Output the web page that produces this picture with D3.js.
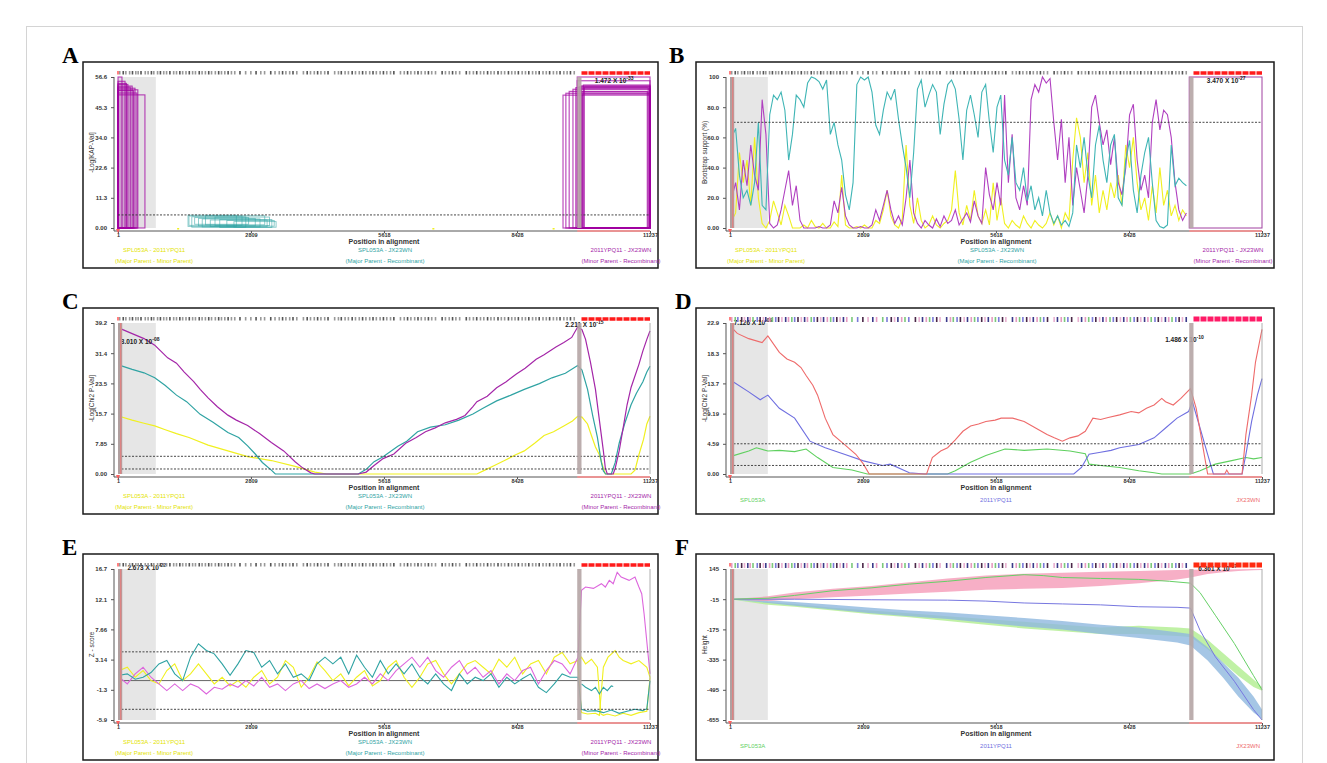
<!DOCTYPE html>
<html><head><meta charset="utf-8">
<script src="https://cdn.jsdelivr.net/npm/d3@7"></script>
<style>body{margin:0;background:#fff;} text{font-family:"Liberation Sans",Arial,sans-serif;}</style>
</head><body><script>
// ---------------- DATA ----------------
const xTickVals = [1, 2809, 5618, 8428, 11237];
const xTickLabels = ["1", "2809", "5618", "8428", "11237"];
const breakStart = 9700, breakEnd = 9790, seqEnd = 11237, greyEnd = 800;

const sitePos = [20,95,150,230,290,360,410,470,560,620,690,740,820,880,950,1010,1080,1160,1220,1290,1350,1420,1490,1560,1620,1700,1760,1830,1900,1960,2040,2110,2170,2240,2310,2380,2450,2560,2680,2790,2900,3000,3080,3210,3300,3390,3460,3530,3610,3680,3760,3900,3980,4050,4130,4200,4270,4350,4420,4560,4640,4700,4780,4850,4930,5000,5080,5150,5220,5300,5370,5440,5520,5590,5660,5740,5810,5950,6030,6100,6170,6250,6320,6390,6470,6540,6610,6690,6830,6900,6980,7050,7120,7200,7340,7410,7490,7560,7640,7710,7790,7860,7930,8010,8080,8150,8230,8300,8370,8440,8520,8590,8660,8740,8810,8880,8960,9030,9100,9180,9250,9320,9400,9470,9540,9620];

// A: RDP boxes (-Log KAP-Val)
const aLeftEnds = [85, 150, 180, 210, 260, 300, 330, 360, 400, 420, 570];
const aLeftTops = [56.6, 55.0, 54.2, 53.8, 52.8, 53.2, 51.5, 52.4, 50.6, 51.8, 49.9];
const aRightStarts = [9700, 9700, 9400, 9460, 9530, 9610, 9670, 9740, 9790, 9830, 9760, 9800, 9810, 9850];
const aRightEnds = [11237, 11237, 11237, 11237, 11180, 11237, 11200, 11237, 11237, 11237, 11237, 11220, 11237, 11237];
const aRightTops = [56.6, 55.2, 49.8, 50.5, 51.2, 52.0, 52.6, 53.0, 53.3, 53.6, 52.2, 51.0, 50.2, 52.8];
const aTealStarts = [1480, 1500, 1560, 1620, 1700, 1780, 1850, 1950, 2050, 2150, 2300, 2450];
const aTealEnds = [2500, 2620, 2700, 2760, 2900, 3000, 3100, 3150, 3200, 3250, 3300, 3340];
const aTealTops = [4.8, 4.5, 4.2, 3.9, 3.6, 3.4, 4.6, 3.0, 4.1, 3.2, 2.8, 2.4];
const aTealBottoms = [0.6, 1.0, 0.3, 1.4, 0.8, 0.4, 1.2, 0.5, 0.9, 0.2, 0.7, 0.3];
const aYellowDots = [1250, 6640, 9180];

// B: Bootscan, windows start 40, step 80
const bootStart = 40, bootStep = 80;
const bTeal = [60,66,35,20,25,15,30,70,15,12,75,88,85,90,78,45,62,88,85,80,96,100,99,97,92,98,62,70,55,45,22,12,30,95,100,98,100,90,68,62,78,90,85,92,72,55,40,20,50,92,98,80,88,95,90,62,82,95,98,92,72,45,78,88,75,60,90,95,70,50,80,88,45,35,60,30,25,40,18,28,12,20,8,25,10,3,8,2,5,1,10,55,40,60,35,20,55,68,45,30,55,62,20,15,45,58,25,10,35,50,60,30,5,1,0,2,55,28,33,30,28];
const bPurple = [20,30,12,45,28,55,35,25,85,62,3,0,2,12,25,38,15,28,5,0,0,0,0,1,0,0,2,18,10,27,8,2,0,0,1,0,0,2,12,5,15,25,12,3,8,2,20,45,10,3,0,5,2,0,6,1,8,3,5,12,2,6,10,4,18,8,3,40,22,12,30,15,88,30,62,20,12,28,15,85,95,90,100,96,99,70,45,72,30,60,15,40,25,10,35,80,88,70,55,65,42,60,30,22,40,75,82,45,25,35,20,70,85,65,78,75,60,30,12,5,10];
const bYellow = [5,10,50,30,45,15,60,20,3,0,5,18,10,2,15,8,0,0,0,2,0,5,1,0,3,0,0,4,1,35,2,0,0,1,0,2,0,0,5,3,12,25,8,2,0,6,55,15,3,20,5,0,2,8,2,0,3,5,12,38,10,2,15,5,25,8,3,12,2,30,5,20,3,0,5,2,0,8,3,0,5,2,0,3,10,2,8,0,10,5,45,73,60,30,50,15,35,10,25,12,30,20,35,15,55,40,60,30,12,20,5,28,10,40,15,25,8,15,5,12,8];

// C: MaxChi
const cPurplePos = [51,300,550,777,900,1050,1236,1400,1600,1737,1904,2100,2322,2500,2739,2990,3240,3500,3741,3900,4075,4158,5076,5243,5410,5600,5827,6078,6300,6495,6700,6913,7150,7330,7497,7581,7800,7998,8200,8415,8600,8833,9000,9250,9417,9584,9709,9800,9876,9980,10085,10168,10252,10294,10335,10460,10502,10586,10670,10753,10837,11003,11087,11170,11237];
const cPurple = [37.8,36.5,35.2,33.5,32.0,30.2,28.8,26.5,24.0,22.0,19.8,17.5,15.3,14.0,12.6,10.5,8.2,6.0,3.2,1.6,0.3,0,0,0.5,2.2,4.0,5.2,8.0,9.5,11.0,12.0,13.3,14.2,15.2,17.5,18.8,20.2,22.4,24.0,26.0,27.5,29.8,31.0,33.0,34.2,35.5,38.2,37.5,35.0,29.0,22.0,14.0,6.0,1.5,0,0,1.5,6.0,12.0,18.0,22.5,28.5,32.0,35.0,37.2];
const cTealPos = [26,300,550,777,1000,1236,1450,1737,2000,2322,2550,2739,2900,3050,3240,3323,5076,5243,5410,5600,5911,6100,6328,6600,6913,7200,7497,7700,7998,8300,8582,8900,9167,9450,9709,9800,9918,10030,10126,10210,10252,10300,10420,10502,10586,10700,10837,10950,11087,11170,11237];
const cTeal = [28.3,27.2,26.3,25.0,23.0,20.5,18.8,15.5,13.5,10.8,9.5,7.3,5.2,3.0,1.0,0,0,1.2,3.2,4.5,7.2,8.5,11.0,12.2,12.8,14.0,15.6,17.0,19.0,20.5,22.0,23.5,25.0,26.2,28.2,27.0,22.0,15.0,9.5,3.0,0.8,0,0,3.0,8.0,13.0,18.0,21.0,24.0,26.5,28.0];
const cYellowPos = [26,300,550,777,1000,1236,1500,1904,2322,2739,3240,3741,4158,4409,7581,7748,7950,8165,8400,8582,8800,9000,9200,9417,9600,9709,9800,9918,10000,10085,10168,10252,10294,10837,10920,11003,11100,11170,11237];
const cYellow = [15.0,14.0,13.2,12.5,11.5,10.5,9.5,7.5,6.0,4.5,3.5,2.0,0.5,0,0,1.0,2.2,3.5,5.0,6.0,8.0,10.0,11.0,12.5,13.8,15.0,14.8,13.0,10.0,7.0,5.0,1.5,0,0,1.0,5.0,9.0,13.0,15.0];

// D: Chi2 per sequence
const dRedPos = [74,154,397,679,801,1043,1204,1366,1500,1608,1750,1851,2012,2174,2416,2658,2820,2941,4153,4274,4450,4597,4759,4920,5082,5250,5405,5600,5728,5970,6213,6455,6697,6850,7020,7182,7350,7505,7666,7828,7989,8231,8474,8635,8797,8958,9120,9200,9362,9524,9726,9847,9968,10089,10450,10493,10540,10816,10897,11018,11099,11237];
const dRed = [22.0,21.4,20.6,20.0,21.0,18.5,17.5,17.0,16.2,15.0,13.5,12.0,8.5,6.0,4.5,3.0,1.5,0,0,2.5,3.5,4.0,5.2,6.5,7.3,7.6,8.0,8.2,8.5,8.5,8.0,7.0,6.0,5.5,5.0,5.5,5.8,6.5,8.5,8.3,8.6,9.0,9.5,9.3,10.0,10.5,11.5,11.0,10.5,11.5,13.0,10.0,5.0,0,0,0.6,0,0,6.0,12.0,17.0,22.0];
const dBluePos = [74,397,639,801,1043,1366,1689,2012,2416,2820,3224,3385,3789,4112,7262,7424,7585,7828,8050,8231,8635,8958,9200,9443,9685,9766,9928,10089,10210,10816,10897,11018,11139,11237];
const dBlue = [14.0,12.5,11.3,12.0,10.0,8.5,5.0,4.0,3.0,2.0,1.3,1.5,0.2,0,0,1.0,3.0,3.3,3.6,4.0,4.5,5.5,7.0,8.5,9.5,11.0,7.0,3.0,0,0,3.0,8.0,12.0,14.5];
const dGreenPos = [74,397,558,801,1043,1366,1608,1851,2174,2578,2901,4597,4759,5082,5405,5808,6213,6697,7182,7505,7585,7828,8231,8635,8958,9120,9726,9928,10251,10574,10897,11058,11237];
const dGreen = [2.8,3.5,4.0,3.5,3.6,3.4,3.8,2.5,1.0,0.6,0,0,0.5,1.8,2.8,3.8,3.6,3.8,3.5,3.1,1.5,1.3,1.0,0.5,0.2,0,0,0.5,1.5,2.0,2.5,2.3,2.5];

// E: Siscan Z-score, windows start 30, step 167 up to breakpoint
const zStart = 30, zStep = 167;
const eTeal = [0.8,1.0,0.2,0.5,1.2,2.5,3.0,1.0,0.0,3.5,5.5,4.5,4.0,2.5,0.8,2.5,4.5,4.2,2.0,3.0,1.0,2.5,0.5,1.0,0.0,2.5,3.5,2.5,3.5,1.0,3.8,2.0,0.5,3.0,1.0,2.5,1.0,2.5,0.5,-0.5,1.0,-0.5,-1.5,1.0,-0.5,0.5,0.0,1.0,-1.0,0.5,-0.5,0.3,1.0,-1.0,-1.8,-0.5,1.0,0.5,0.5];
const eYellow = [1.5,2.0,0.5,1.5,0.0,-0.5,1.5,2.5,0.0,1.0,2.5,1.0,-0.5,0.5,-0.8,0.0,-1.0,0.5,1.5,-0.5,0.5,3.0,2.0,-1.0,0.5,2.8,1.5,0.0,1.0,-0.8,0.5,1.5,-0.8,0.0,2.0,3.0,0.5,-1.0,0.5,2.5,3.0,1.0,-0.5,1.0,2.5,3.0,2.0,1.0,3.2,2.0,3.5,1.0,2.5,3.0,1.0,3.5,4.2,2.5,3.0];
const eMagenta = [0.5,-0.5,1.0,2.0,0.5,-0.5,-1.5,-0.5,-1.5,-0.5,-1.0,-2.0,-1.0,-1.3,-0.5,-1.0,0.0,-0.8,0.5,-1.0,-0.5,-1.5,-0.5,0.0,-1.2,-0.5,-1.2,-0.5,0.0,-1.0,-0.5,0.5,-0.5,1.0,0.0,1.5,2.5,3.5,2.0,3.5,1.5,0.5,2.0,3.0,1.0,2.0,0.5,1.5,-0.5,1.0,0.0,1.5,2.0,-0.5,1.5,3.0,2.5,1.0,3.5];
const eTealPostPos = [9790,9918,10085,10252,10420,10586,10753,10920,11087,11170,11237];
const eTealPost = [-4.3,-4.6,-4.5,-4.8,-4.4,-4.9,-4.6,-4.3,-4.5,-4.2,0.0];
const eTeal2Pos = [9790,9876,10001,10085,10168,10252,10335,10420,10460];
const eTeal2 = [-0.5,-1.0,-1.5,-1.0,-2.0,-1.0,-1.5,-0.8,-0.9];
const eYellowPostPos = [9790,9876,10001,10126,10200,10252,10335,10500,10670,10837,11003,11170,11237];
const eYellowPost = [3.5,2.5,3.2,2.0,-5.0,-5.2,-5.0,-5.3,-4.9,-5.2,-4.8,-4.6,0.5];
const eYellow2Pos = [9709,9790,9918,10085,10168,10252,10350,10500,10586,10670,10837,11003,11170,11237];
const eYellow2 = [3.0,-4.8,-5.0,-4.9,-5.2,2.0,3.5,4.5,3.5,3.0,2.5,3.0,2.0,0.5];
const eMagentaPostPos = [9790,9876,10043,10210,10294,10377,10460,10544,10628,10795,10920,11003,11062,11112,11237];
const eMagentaPost = [13.5,14.0,13.8,14.5,14.0,15.0,14.5,16.2,15.5,15.0,15.5,14.0,13.0,10.0,1.0];

// F: LARD heights
const fPos = [1,801,1366,2174,2981,3789,4597,5405,6213,7020,7828,8635,9443,9726,10089,10412,10735,11058,11237];
const fPinkUpper = [-15,0,20,40,55,75,95,110,120,125,130,135,140,141,142,143,144,145,145];
const fPinkLower = [-15,-25,-15,-5,5,15,25,35,40,45,55,70,90,100,118,128,134,139,140];
const fBlueUpper = [-15,-20,-30,-45,-60,-75,-85,-100,-115,-130,-150,-165,-190,-200,-270,-350,-430,-530,-600];
const fBlueLower = [-15,-35,-50,-70,-90,-105,-120,-140,-160,-175,-200,-220,-245,-260,-340,-430,-530,-615,-650];
const fGreenUpper = [-15,-30,-40,-60,-75,-90,-105,-120,-135,-150,-165,-155,-165,-170,-230,-300,-370,-440,-480];
const fGreenLower = [-15,-45,-55,-75,-95,-110,-130,-150,-170,-185,-200,-200,-210,-215,-280,-350,-420,-480,-500];
const fGreenLinePos = [1,801,1366,2174,2981,3789,4597,5405,6213,6616,7020,7828,8635,9281,9726,9928,10251,10654,11058,11237];
const fGreenLine = [-15,-10,5,30,45,65,80,100,115,110,100,95,90,80,70,20,-100,-250,-420,-495];
const fBlueLinePos = [1,1366,2981,4597,5405,6213,7020,7828,8635,9443,9726,9928,10251,10654,11058,11237];
const fBlueLine = [-15,-15,-18,-20,-25,-35,-40,-45,-55,-58,-62,-180,-320,-450,-600,-655];

// ---------------- DRAWING ----------------
const YEL = "#f0f020", TEAL = "#2fa3a3", PUR = "#a426a8", MAG = "#dd66dd";
const DRED = "#ee6a6a", DBLUE = "#6f6fe0", DGREEN = "#5fd05f";
const svg = d3.select("body").append("svg").attr("width", 1327).attr("height", 763);
svg.append("rect").attr("x", 26.5).attr("y", 26.5).attr("width", 1276).attr("height", 760)
  .attr("fill", "none").attr("stroke", "#d4d4d4");

const cols = [{fx: 83, fw: 575, pl: 118}, {fx: 696, fw: 578, pl: 730}];
const rows = [62, 308, 554];
const PW = 532, FH = 206;

function panel(cfg) {
  const c = cols[cfg.col], fy = rows[cfg.row], pl = c.pl, pr = pl + PW;
  const g = svg.append("g");
  const x = d3.scaleLinear().domain([1, seqEnd]).range([pl, pr]);
  const y = d3.scaleLinear().domain(cfg.yDomain).range([fy + 166, fy + 15]);
  const yTop = fy + 15, yBot = fy + 166;
  g.append("rect").attr("x", c.fx).attr("y", fy).attr("width", c.fw).attr("height", FH)
    .attr("fill", "#fff").attr("stroke", "#1a1a1a").attr("stroke-width", 1.5);
  svg.append("text").attr("x", c.fx - (cfg.letterShift || 21)).attr("y", fy + 1).text(cfg.letter)
    .attr("font-weight", "bold").attr("font-size", 23).attr("fill", "#000")
    .style("font-family", "'Liberation Serif',serif");
  g.append("rect").attr("x", x(1)).attr("y", yTop).attr("width", x(greyEnd) - x(1)).attr("height", yBot - yTop)
    .attr("fill", "#e6e6e6");
  const body = g.append("g");
  (cfg.dashed || []).forEach(v => {
    g.append("line").attr("x1", pl).attr("x2", pr).attr("y1", y(v)).attr("y2", y(v))
      .attr("stroke", "#333").attr("stroke-width", 0.9).attr("stroke-dasharray", "2,1.5");
  });
  if (cfg.leftBar) {
    g.append("rect").attr("x", x(1)).attr("y", yTop).attr("width", x(90) - x(1)).attr("height", yBot - yTop)
      .attr("fill", "#b0a0a0");
    g.append("line").attr("x1", x(60)).attr("x2", x(60)).attr("y1", yTop).attr("y2", yBot)
      .attr("stroke", "#ff7070").attr("stroke-width", 0.8);
  }
  g.append("rect").attr("x", x(breakStart)).attr("y", yTop).attr("width", x(breakEnd) - x(breakStart)).attr("height", yBot - yTop)
    .attr("fill", "#b5a5a5").attr("opacity", 0.9);
  if (cfg.rightLine) {
    g.append("line").attr("x1", pr).attr("x2", pr).attr("y1", yTop).attr("y2", yBot)
      .attr("stroke", "#999").attr("stroke-width", 0.8);
  }
  const ya = d3.axisLeft(y).tickValues(cfg.yTicks).tickFormat((d, i) => cfg.yTickLabels[i]).tickSize(3).tickSizeOuter(0);
  const yg = g.append("g").attr("transform", `translate(${pl - 4},0)`).call(ya);
  yg.select(".domain").attr("d", `M0,${yTop}V${fy + 169}`);
  yg.selectAll("text").attr("font-size", 6).attr("font-weight", "bold").attr("fill", "#333").attr("dx", -1);
  yg.selectAll("line,path").attr("stroke", "#555");
  const xa = d3.axisBottom(x).tickValues(xTickVals).tickFormat((d, i) => xTickLabels[i]).tickSize(2).tickSizeOuter(0);
  const xg = g.append("g").attr("transform", `translate(0,${fy + 169})`).call(xa);
  xg.select(".domain").attr("d", `M${pl - 4},0H${pr}`);
  xg.selectAll("text").attr("y", 5.5).attr("dy", 0).attr("font-size", 5.5).attr("font-weight", "bold").attr("fill", "#333");
  xg.selectAll("line,path").attr("stroke", "#555");
  g.append("line").attr("x1", x(breakStart)).attr("x2", pr).attr("y1", fy + 169).attr("y2", fy + 169)
    .attr("stroke", "#ff8c8c").attr("stroke-width", 1.6);
  g.append("path").attr("d", `M${pl - 2},${fy + 167}L${pl + 2},${fy + 167}L${pl},${fy + 171}Z`).attr("fill", "#ff6060");
  g.append("text").attr("x", pl + PW / 2).attr("y", fy + 181.5).attr("text-anchor", "middle")
    .attr("font-size", 7).attr("font-weight", "bold").attr("fill", "#333").text("Position in alignment");
  g.append("text").attr("transform", `translate(${c.fx + 11},${(yTop + yBot) / 2}) rotate(-90)`)
    .attr("text-anchor", "middle").attr("font-size", 6.5).attr("fill", "#333").text(cfg.yLabel);
  const sy = fy + 9;
  g.selectAll(null).data(sitePos).enter().append("rect")
    .attr("x", d => x(d)).attr("y", sy).attr("width", 1.6).attr("height", cfg.colourStrip ? 5 : 3.5)
    .attr("fill", (d, i) => cfg.colourStrip ? cfg.colourStrip[i % cfg.colourStrip.length] : (i % 3 === 1 ? "#555" : "#999"));
  g.append("rect").attr("x", x(1) - 1).attr("y", sy).attr("width", 2).attr("height", 3.5).attr("fill", "#ff8080");
  g.append("line").attr("x1", x(breakEnd)).attr("x2", pr).attr("y1", sy + 2).attr("y2", sy + 2)
    .attr("stroke", cfg.stripRed || "#ff1a1a").attr("stroke-width", cfg.colourStrip ? 5 : 3.5).attr("stroke-dasharray", "6,1");
  if (cfg.legend3) {
    const lx = [pl + 36, pl + 267, pl + 503], lc = ["#e3e300", TEAL, PUR];
    const l1 = ["SPL053A - 2011YPQ11", "SPL053A - JX23WN", "2011YPQ11 - JX23WN"];
    const l2 = ["(Major Parent - Minor Parent)", "(Major Parent - Recombinant)", "(Minor Parent - Recombinant)"];
    lx.forEach((xx, i) => {
      g.append("text").attr("x", xx).attr("y", fy + 190).attr("text-anchor", "middle").attr("font-size", 6)
        .attr("fill", lc[i]).text(l1[i]);
      g.append("text").attr("x", xx).attr("y", fy + 201).attr("text-anchor", "middle").attr("font-size", 6)
        .attr("fill", lc[i]).text(l2[i]);
    });
  } else {
    const lx = [pl + 10, pl + 266, pr - 2], la = ["start", "middle", "end"], lc = [DGREEN, DBLUE, DRED];
    const lt = ["SPL053A", "2011YPQ11", "JX23WN"];
    lx.forEach((xx, i) => g.append("text").attr("x", xx).attr("y", fy + 194).attr("text-anchor", la[i])
      .attr("font-size", 6).attr("fill", lc[i]).text(lt[i]));
  }
  return {g: body, x, y, fy, pl, pr};
}

function line(p, pos, vals, color, w) {
  p.g.append("path").datum(d3.zip(pos, vals))
    .attr("d", d3.line().x(d => p.x(d[0])).y(d => p.y(d[1])))
    .attr("fill", "none").attr("stroke", color).attr("stroke-width", w || 1.1);
}
function band(p, pos, lo, hi, color, op) {
  p.g.append("path").datum(d3.zip(pos, lo, hi))
    .attr("d", d3.area().x(d => p.x(d[0])).y0(d => p.y(d[1])).y1(d => p.y(d[2])))
    .attr("fill", color).attr("opacity", op);
}
function pval(g, xx, yy, mant, exp, anchor) {
  const t = g.append("text").attr("x", xx).attr("y", yy).attr("font-size", 6.5).attr("font-weight", "bold")
    .attr("fill", "#222").attr("text-anchor", anchor || "middle");
  t.append("tspan").text(mant + " X 10");
  t.append("tspan").attr("dy", -3).attr("font-size", 5).text(exp);
}

// ---- Panel A
const pA = panel({letter: "A", col: 0, row: 0, yDomain: [0, 56.6], yTicks: [0, 11.32, 22.64, 33.96, 45.28, 56.6],
  yTickLabels: ["0.00", "11.3", "22.6", "34.0", "45.3", "56.6"], yLabel: "-Log[KAP-Val]", dashed: [4.9], legend3: true});
aLeftEnds.forEach((e, i) => pA.g.append("rect").attr("x", pA.x(1)).attr("y", pA.y(aLeftTops[i]))
  .attr("width", pA.x(e) - pA.x(1)).attr("height", pA.y(0) - pA.y(aLeftTops[i]))
  .attr("fill", "#a000a0").attr("fill-opacity", 0.03).attr("stroke", "#a000a0").attr("stroke-opacity", 0.75).attr("stroke-width", 1.1));
aRightStarts.forEach((s, i) => pA.g.append("rect").attr("x", pA.x(s)).attr("y", pA.y(aRightTops[i]))
  .attr("width", pA.x(aRightEnds[i]) - pA.x(s)).attr("height", pA.y(0) - pA.y(aRightTops[i]))
  .attr("fill", "none").attr("stroke", "#a000a0").attr("stroke-opacity", 0.7).attr("stroke-width", 1.2));
aTealStarts.forEach((s, i) => pA.g.append("rect").attr("x", pA.x(s)).attr("y", pA.y(aTealTops[i]))
  .attr("width", pA.x(aTealEnds[i]) - pA.x(s)).attr("height", pA.y(aTealBottoms[i]) - pA.y(aTealTops[i]))
  .attr("fill", "none").attr("stroke", TEAL).attr("stroke-opacity", 0.6).attr("stroke-width", 0.9));
aYellowDots.forEach(d => pA.g.append("rect").attr("x", pA.x(d)).attr("y", pA.y(0)).attr("width", 2).attr("height", 1.5).attr("fill", YEL));
pval(pA.g, pA.x(10480), pA.fy + 21, "1.472", "-33");

// ---- Panel B
const pB = panel({letter: "B", col: 1, row: 0, letterShift: 27, yDomain: [0, 100], yTicks: [0, 20, 40, 60, 80, 100],
  yTickLabels: ["0.00", "20.0", "40.0", "60.0", "80.0", "100"], yLabel: "Bootstrap support (%)", dashed: [70],
  legend3: true, leftBar: true});
const bPos = bTeal.map((_, i) => bootStart + bootStep * i);
line(pB, bPos, bYellow, YEL, 1.1);
line(pB, bPos, bPurple, "#b040c0", 1.1);
line(pB, bPos, bTeal, "#3fb5b5", 1.1);
pB.g.append("rect").attr("x", pB.x(breakStart)).attr("y", pB.y(100)).attr("width", pB.pr - pB.x(breakStart))
  .attr("height", pB.y(0) - pB.y(100)).attr("fill", "none").attr("stroke", "#a040a0").attr("stroke-width", 1);
pval(pB.g, pB.x(10480), pB.fy + 21, "3.470", "-27");

// ---- Panel C
const pC = panel({letter: "C", col: 0, row: 1, yDomain: [0, 39.25], yTicks: [0, 7.85, 15.7, 23.55, 31.4, 39.25],
  yTickLabels: ["0.00", "7.85", "15.7", "23.5", "31.4", "39.2"], yLabel: "-Log[Chi2 P-Val]", dashed: [4.6, 1.3],
  legend3: true, leftBar: true, rightLine: true});
line(pC, cYellowPos, cYellow, YEL, 1.2);
line(pC, cTealPos, cTeal, TEAL, 1.2);
line(pC, cPurplePos, cPurple, PUR, 1.2);
pval(pC.g, pC.x(60), pC.fy + 36, "3.010", "-08", "start");
pval(pC.g, pC.x(9850), pC.fy + 19, "2.211", "-15");

// ---- Panel D
const pD = panel({letter: "D", col: 1, row: 1, yDomain: [0, 22.98], yTicks: [0, 4.596, 9.192, 13.788, 18.384, 22.98],
  yTickLabels: ["0.00", "4.59", "9.19", "13.7", "18.3", "22.9"], yLabel: "-Log[Chi2 P-Val]", dashed: [4.6, 1.3],
  legend3: false, leftBar: true, rightLine: true,
  colourStrip: ["#e59ac0", "#7bc97b", "#7a7ad8", "#4a2848", "#e8b0d0", "#3a3a8a"], stripRed: "#ff1a66"});
line(pD, dGreenPos, dGreen, DGREEN, 1.1);
line(pD, dBluePos, dBlue, DBLUE, 1.1);
line(pD, dRedPos, dRed, DRED, 1.1);
pval(pD.g, pD.x(80), pD.fy + 17, "7.126", "-09", "start");
pval(pD.g, pD.x(9600), pD.fy + 34, "1.486", "-10");

// ---- Panel E
const pE = panel({letter: "E", col: 0, row: 2, yDomain: [-5.9, 16.7], yTicks: [-5.9, -1.38, 3.14, 7.66, 12.18, 16.7],
  yTickLabels: ["-5.9", "-1.3", "3.14", "7.66", "12.1", "16.7"], yLabel: "Z - score", dashed: [4.3, -4.3],
  legend3: true, leftBar: true, rightLine: true});
pE.g.append("line").attr("x1", pE.pl).attr("x2", pE.pr).attr("y1", pE.y(0)).attr("y2", pE.y(0))
  .attr("stroke", "#666").attr("stroke-width", 1);
const ePos = eTeal.map((_, i) => zStart + zStep * i);
line(pE, ePos.concat(eYellowPostPos), eYellow.concat(eYellowPost), YEL, 1.1);
line(pE, eYellow2Pos, eYellow2, YEL, 1.1);
line(pE, ePos.concat(eMagentaPostPos), eMagenta.concat(eMagentaPost), MAG, 1.1);
line(pE, ePos.concat(eTealPostPos), eTeal.concat(eTealPost), TEAL, 1.1);
line(pE, eTeal2Pos, eTeal2, TEAL, 1.1);
pval(pE.g, pE.x(200), pE.fy + 16, "2.673", "-22", "start");

// ---- Panel F
const pF = panel({letter: "F", col: 1, row: 2, yDomain: [-655, 145], yTicks: [-655, -495, -335, -175, -15, 145],
  yTickLabels: ["-655", "-495", "-335", "-175", "-15", "145"], yLabel: "Height", dashed: [],
  legend3: false, leftBar: true, rightLine: true,
  colourStrip: ["#e59ac0", "#7bc97b", "#7a7ad8", "#4a2848", "#e8b0d0", "#3a3a8a"], stripRed: "#ff2a10"});
band(pF, fPos, fGreenLower, fGreenUpper, "#b5ef95", 0.85);
band(pF, fPos, fBlueLower, fBlueUpper, "#8fb8df", 0.8);
band(pF, fPos, fPinkLower, fPinkUpper, "#f59bb8", 0.8);
line(pF, fBlueLinePos, fBlueLine, "#7777e0", 1.0);
line(pF, fGreenLinePos, fGreenLine, "#66d066", 1.0);
pval(pF.g, pF.x(10300), pF.fy + 17, "6.361", "-07");
</script></body></html>
